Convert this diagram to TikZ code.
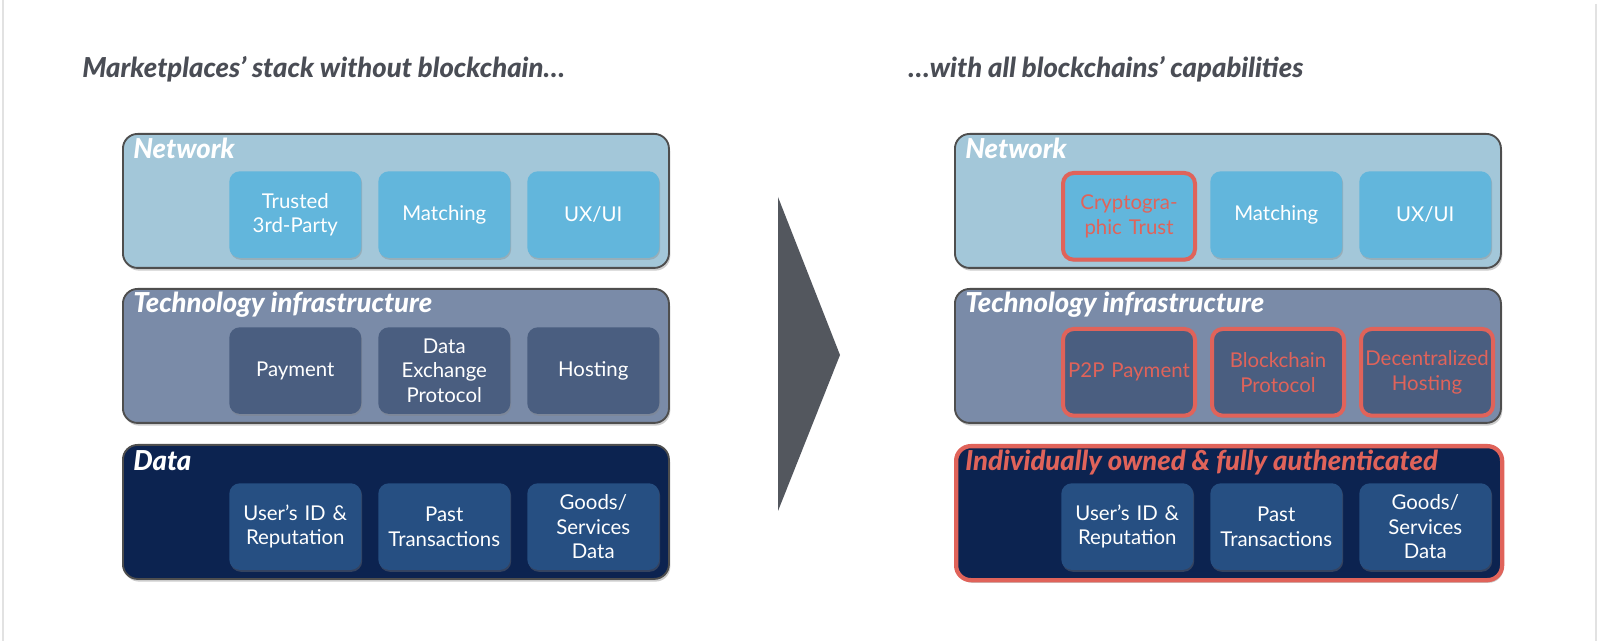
\documentclass[tikz,border=0pt]{standalone}
\usepackage{fontspec}
\setmainfont{Lato}
\IfFontExistsTF{Lato Black}{\newfontfamily\heavyfont{Lato Black}}{\newfontfamily\heavyfont{Lato}[UprightFont=*-Bold,ItalicFont=*-BoldItalic]}
\usetikzlibrary{shadows}
\definecolor{netout}{HTML}{A3C7D9}
\definecolor{netin}{HTML}{62B6DC}
\definecolor{techout}{HTML}{7A8BA8}
\definecolor{techin}{HTML}{4A5E80}
\definecolor{dataout}{HTML}{0C2350}
\definecolor{datain}{HTML}{264F82}
\definecolor{redc}{HTML}{E0635A}
\definecolor{titlec}{HTML}{4A4D55}
\definecolor{arrowc}{HTML}{53575E}
\definecolor{edgec}{HTML}{4E4E4E}
\definecolor{slidec}{HTML}{E2E2E2}
\tikzset{
  layer/.style={draw=edgec, line width=1.4pt, rounded corners=11pt, minimum width=409.5pt, minimum height=100.5pt, anchor=north west, inner sep=0pt,
    drop shadow={shadow xshift=1pt, shadow yshift=-2pt, opacity=0.4}},
  cell/.style={rounded corners=8pt, minimum width=99pt, minimum height=65pt, anchor=north west, inner sep=0pt, text=white,
    font=\fontsize{15.3}{18.4}\selectfont, align=center, text width=97pt,
    drop shadow={shadow xshift=0.7pt, shadow yshift=-1.4pt, opacity=0.35}},
  redcell/.style={draw=redc, line width=3pt, text=redc},
  laytitle/.style={anchor=base west, inner sep=0pt, text=white, font=\fontsize{20.6}{23}\selectfont\heavyfont\itshape},
  headtitle/.style={anchor=base west, inner sep=0pt, text=titlec, font=\fontsize{20.6}{23}\selectfont\heavyfont\itshape},
}
\begin{document}
\begin{tikzpicture}[x=0.75pt, y=-0.75pt]
\useasboundingbox (0,0) rectangle (1600,641);
\fill[white] (0,0) rectangle (1600,641);
\coordinate (sl1) at (3,0); \coordinate (sl2) at (3,641);
\coordinate (sr1) at (1596,4); \coordinate (sr2) at (1596,641);
\draw[slidec, line width=1.2pt] (sl1) -- (sl2);
\draw[slidec, line width=1.2pt] (sr1) -- (sr2);

% titles
\node[headtitle] (tl) at (82,78) {Marketplaces’ stack without blockchain…};
\node[headtitle] (tr) at (908,78) {…with all blockchains’ capabilities};

% ---------- left stack ----------
\node[layer, fill=netout] (lnet) at (122,133) {};
\node[laytitle] (lnett) at (133,159) {Network};
\node[cell, fill=netin] (lc1) at (229,171) {Trusted\\3rd-Party};
\node[cell, fill=netin] (lc2) at (378,171) {Matching};
\node[cell, fill=netin] (lc3) at (527,171) {UX/UI};

\node[layer, fill=techout] (ltech) at (122,288) {};
\node[laytitle] (ltecht) at (133,313) {Technology infrastructure};
\node[cell, fill=techin] (lt1) at (229,327) {Payment};
\node[cell, fill=techin] (lt2) at (378,327) {Data\\Exchange\\Protocol};
\node[cell, fill=techin] (lt3) at (527,327) {Hosting};

\node[layer, fill=dataout] (ldata) at (122,444) {};
\node[laytitle] (ldatat) at (133,471) {Data};
\node[cell, fill=datain] (ld1) at (229,483) {User’s ID \&\\Reputation};
\node[cell, fill=datain] (ld2) at (378,483) {Past\\Transactions};
\node[cell, fill=datain] (ld3) at (527,483) {Goods/\\Services\\Data};

% ---------- arrow ----------
\coordinate (a1) at (778,197);
\coordinate (a2) at (840,355);
\coordinate (a3) at (778,511);
\fill[arrowc] (a1) -- (a2) -- (a3) -- cycle;

% ---------- right stack ----------
\node[layer, fill=netout] (rnet) at (954,133) {};
\node[laytitle] (rnett) at (965,159) {Network};
\node[cell, fill=netin, redcell] (rc1) at (1061,171) {Cryptogra-\\phic Trust};
\node[cell, fill=netin] (rc2) at (1210,171) {Matching};
\node[cell, fill=netin] (rc3) at (1359,171) {UX/UI};

\node[layer, fill=techout] (rtech) at (954,288) {};
\node[laytitle] (rtecht) at (965,313) {Technology infrastructure};
\node[cell, fill=techin, redcell] (rt1) at (1061,327) {P2P Payment};
\node[cell, fill=techin, redcell] (rt2) at (1210,327) {Blockchain\\Protocol};
\node[cell, fill=techin, redcell] (rt3) at (1359,327) {Decentralized\\Hosting};

\node[layer, fill=dataout, draw=redc, line width=3.2pt] (rdata) at (954,444) {};
\node[laytitle, text=redc] (rdatat) at (965,471) {Individually owned \& fully authenticated};
\node[cell, fill=datain] (rd1) at (1061,483) {User’s ID \&\\Reputation};
\node[cell, fill=datain] (rd2) at (1210,483) {Past\\Transactions};
\node[cell, fill=datain] (rd3) at (1359,483) {Goods/\\Services\\Data};
\end{tikzpicture}
\end{document}
